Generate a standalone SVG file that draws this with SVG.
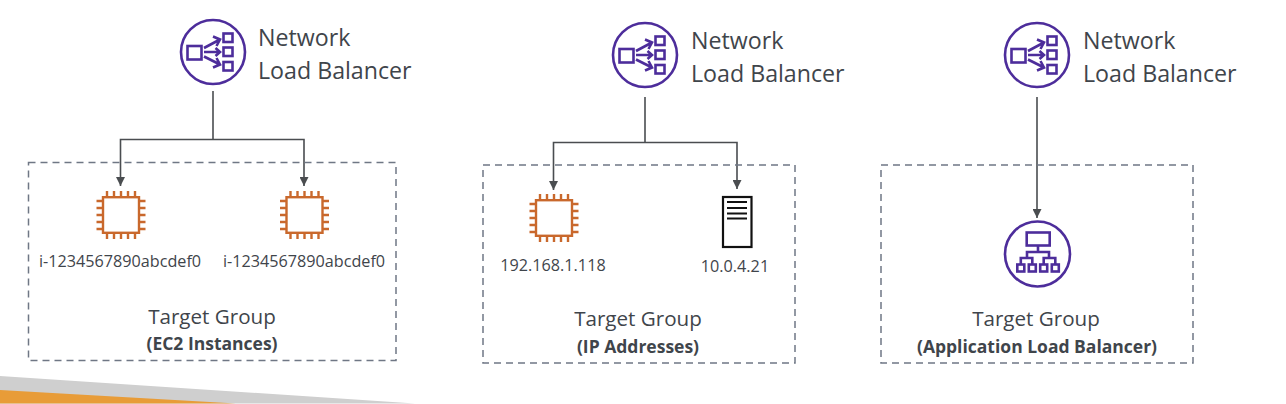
<svg xmlns="http://www.w3.org/2000/svg" width="1286" height="404" viewBox="0 0 1286 404">
<style>
text{font-family:"Open Sans","Noto Sans","Liberation Sans",sans-serif;fill:#3f454b}
.t{font-size:23.2px}
.s{font-size:16.2px;text-anchor:middle}
.g{font-size:20.6px;text-anchor:middle}
.b{font-size:17.5px;font-weight:700;text-anchor:middle}
.box{fill:none;stroke:#6f7785;stroke-width:1.5;stroke-dasharray:7 5}
.c{fill:none;stroke:#4a4d50;stroke-width:1.6}
.p{fill:none;stroke:#4d2d9b;stroke-width:2.6}
.o{fill:none;stroke:#c9682c;stroke-width:2.4}
</style>
<defs>
<marker id="ah" markerUnits="userSpaceOnUse" markerWidth="10" markerHeight="9" refX="9" refY="4.5" orient="auto"><path d="M0 0L9 4.5L0 9z" fill="#4a4d50"/></marker>
<g id="nlb">
<circle class="p" r="32"/>
<rect class="p" x="-25.5" y="-6" width="14" height="13.5"/>
<rect class="p" x="10.5" y="-18.5" width="9" height="8.500"/>
<rect class="p" x="10.5" y="-4.5" width="9" height="8.500"/>
<rect class="p" x="10.5" y="10" width="9" height="8.500"/>
<path class="p" d="M-9-4L6-12M0-15.500L7-12.500L3.500-6M-9 0H6.500M2.500-4L7 0L2.500 4M-9 4.500L6 12M3.500 6L7 12.500L0 15.500"/>
</g>
<g id="chip">
<rect class="o" x="-18" y="-17.800" width="36" height="35.600"/>
<path class="o" d="M-14-18V-24M-7-18V-24M0-18V-24M7-18V-24M14-18V-24M-14 18V24M-7 18V24M0 18V24M7 18V24M14 18V24M-18-14H-24.500M-18-7H-24.500M-18 0H-24.500M-18 7H-24.500M-18 14H-24.500M18-14H24.500M18-7H24.500M18 0H24.500M18 7H24.500M18 14H24.500"/>
</g>
</defs>
<rect width="1286" height="404" fill="#fff"/>
<g id="footer">
<path d="M0 376L415 403.500H0z" fill="#cfcfcf"/>
<path d="M0 390L236 403.500H0z" fill="#e89c38"/>
</g>
<g id="connectors">
<path class="c" d="M213 91V139.500"/>
<path class="c" d="M213 139.500H120.500V186" marker-end="url(#ah)"/>
<path class="c" d="M213 139.500H304V186" marker-end="url(#ah)"/>
<path class="c" d="M645 97V142.500"/>
<path class="c" d="M645 142.500H553.500V190" marker-end="url(#ah)"/>
<path class="c" d="M645 142.500H737V189" marker-end="url(#ah)"/>
<path class="c" d="M1037 97V218" marker-end="url(#ah)"/>
</g>
<g id="nlb-1"><use href="#nlb" x="213" y="52"/><text class="t" x="258" y="46">Network</text><text class="t" x="258" y="79">Load Balancer</text></g>
<g id="nlb-2"><use href="#nlb" x="645" y="55"/><text class="t" x="691" y="49">Network</text><text class="t" x="691" y="82">Load Balancer</text></g>
<g id="nlb-3"><use href="#nlb" x="1037" y="55"/><text class="t" x="1083" y="49">Network</text><text class="t" x="1083" y="82">Load Balancer</text></g>
<g id="target-group-1"><rect class="box" x="28.500" y="162.500" width="367.500" height="198"/><text class="g" x="212" y="324">Target Group</text><text class="b" x="212" y="350">(EC2 Instances)</text></g>
<g id="target-group-2"><rect class="box" x="483" y="165" width="312" height="198"/><text class="g" x="638" y="326">Target Group</text><text class="b" x="638" y="353">(IP Addresses)</text></g>
<g id="target-group-3"><rect class="box" x="881" y="165" width="312" height="198"/><text class="g" x="1036" y="326">Target Group</text><text class="b" x="1037" y="353">(Application Load Balancer)</text></g>
<g id="instance-1"><use href="#chip" x="121" y="215"/><text class="s" x="120" y="267">i-1234567890abcdef0</text></g>
<g id="instance-2"><use href="#chip" x="304.500" y="215"/><text class="s" x="304" y="267">i-1234567890abcdef0</text></g>
<g id="ip-1"><use href="#chip" x="554" y="218"/><text class="s" x="553" y="271">192.168.1.118</text></g>
<g id="ip-2"><rect x="723" y="197" width="28.500" height="50" fill="#fff" stroke="#111" stroke-width="2.200"/><path d="M727 202H747M727 208H747M727 213.500H747M727 218.500H747" stroke="#111" stroke-width="2" fill="none"/><text class="s" x="735" y="272">10.0.4.21</text></g>
<g id="alb"><circle class="p" cx="1037.500" cy="254" r="32.500"/><rect class="p" x="1026.700" y="232.500" width="23" height="13"/><path class="p" d="M1038 245.500V252M1027 258V252H1049V258M1020.800 264V258H1032.300V264M1043.700 264V258H1055.300V264"/><rect class="p" x="1017.300" y="264.500" width="7" height="7"/><rect class="p" x="1028.800" y="264.500" width="7" height="7"/><rect class="p" x="1040.200" y="264.500" width="7" height="7"/><rect class="p" x="1051.800" y="264.500" width="7" height="7"/></g>
</svg>
